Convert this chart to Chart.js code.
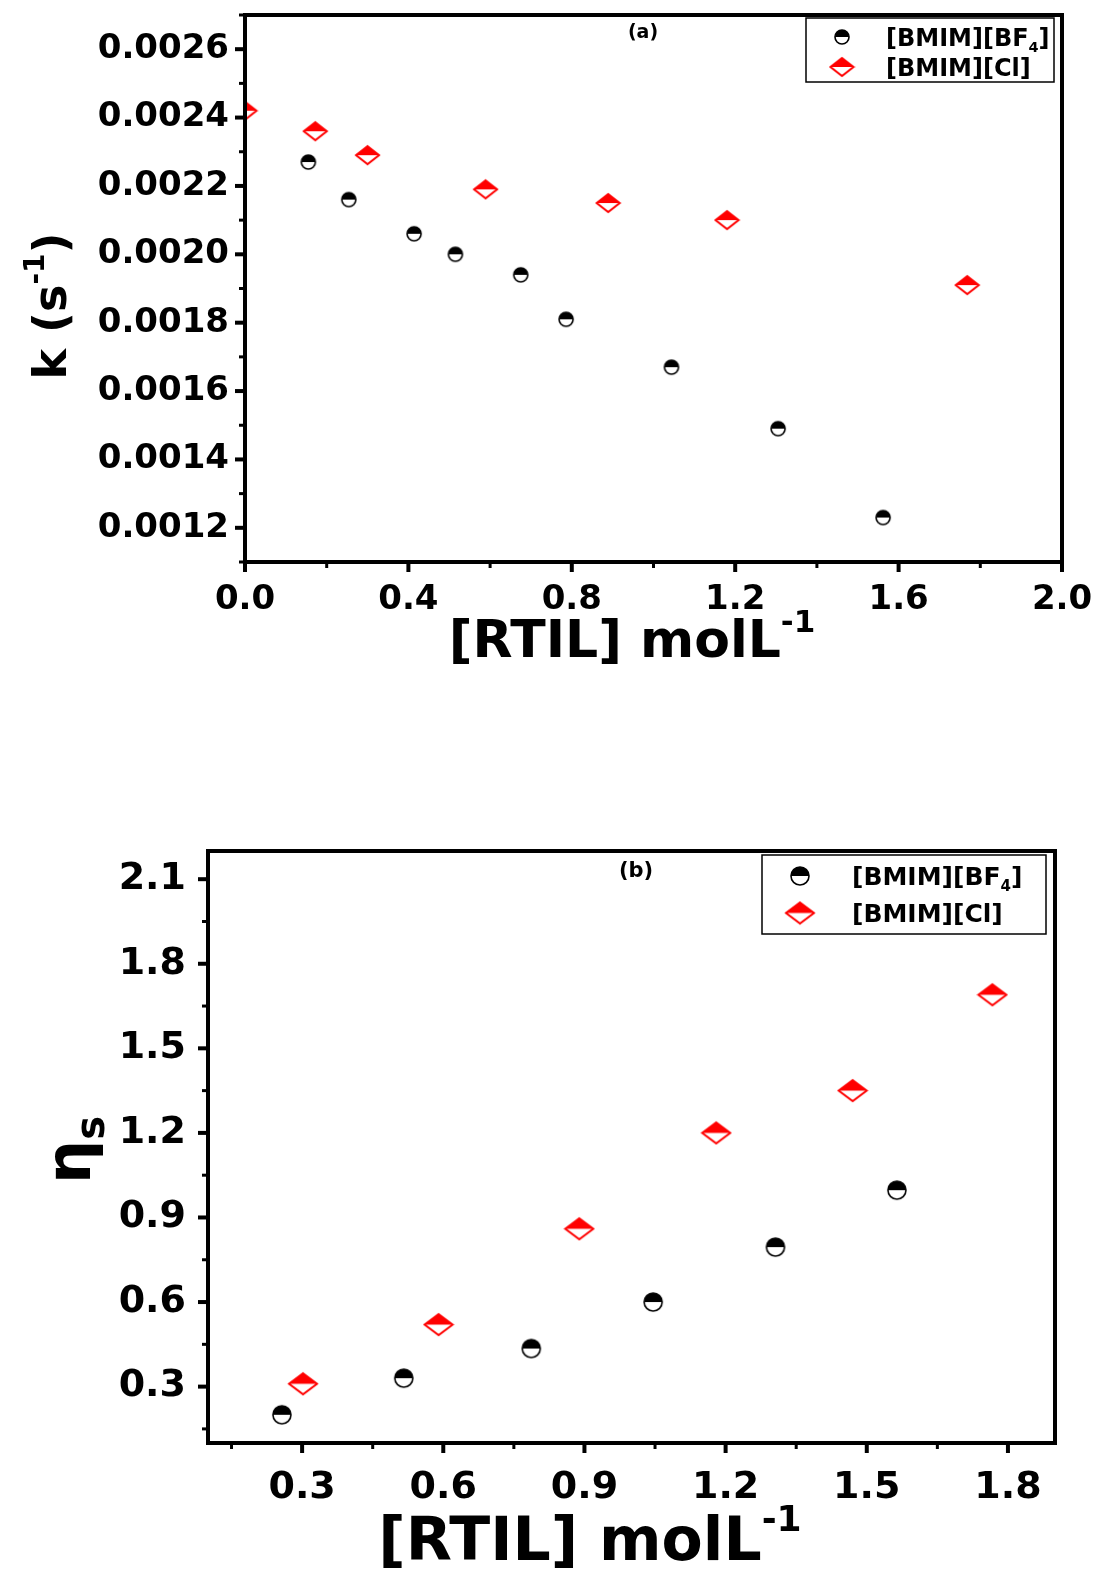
<!DOCTYPE html>
<html>
<head>
<meta charset="utf-8">
<script src="https://cdn.jsdelivr.net/npm/chart.js@4.4.0/dist/chart.umd.min.js"></script>
<style>
  body { margin: 0; background: #fff; }
  #wrap { position: relative; width: 1095px; height: 1571px; }
  canvas { position: absolute; left: 0; }
</style>
</head>
<body>
<div id="wrap">
  <canvas id="chartA" width="1095" height="700" style="top:0"></canvas>
  <canvas id="chartB" width="1095" height="801" style="top:770px"></canvas>
</div>
<script>
// panel (a): rate constant vs [RTIL]
const kBf4X = [0.155, 0.254, 0.414, 0.515, 0.675, 0.786, 1.044, 1.305, 1.562];
const kBf4Y = [0.00227, 0.00216, 0.00206, 0.00200, 0.00194, 0.00181, 0.00167, 0.00149, 0.00123];
const kClX = [0.0, 0.172, 0.30, 0.589, 0.889, 1.18, 1.768];
const kClY = [0.00242, 0.00236, 0.00229, 0.00219, 0.00215, 0.00210, 0.00191];
const aXTicks = [0.0, 0.4, 0.8, 1.2, 1.6, 2.0];
const aYTicks = [0.0012, 0.0014, 0.0016, 0.0018, 0.0020, 0.0022, 0.0024, 0.0026];

// panel (b): relative viscosity vs [RTIL]
const etaBf4X = [0.257, 0.516, 0.787, 1.046, 1.306, 1.564];
const etaBf4Y = [0.20, 0.33, 0.435, 0.60, 0.795, 0.997];
const etaClX = [0.302, 0.590, 0.889, 1.180, 1.470, 1.767];
const etaClY = [0.31, 0.52, 0.86, 1.20, 1.35, 1.69];
const bXTicks = [0.3, 0.6, 0.9, 1.2, 1.5, 1.8];
const bYTicks = [0.3, 0.6, 0.9, 1.2, 1.5, 1.8, 2.1];

const seriesNames = ['[BMIM][BF', '[BMIM][Cl]'];
const FONT = '"DejaVu Sans", "Liberation Sans", sans-serif';

function toPoints(xs, ys) {
    return xs.map((x, i) => ({ x: x, y: ys[i] }));
}

// half filled circle: top black, bottom white
function makeCircle(r) {
    const c = document.createElement('canvas');
    const s = Math.ceil(2 * r + 4);
    c.width = s; c.height = s;
    const g = c.getContext('2d');
    const m = s / 2;
    g.fillStyle = '#fff';
    g.beginPath(); g.arc(m, m, r, 0, Math.PI * 2); g.fill();
    g.fillStyle = '#000';
    g.beginPath(); g.arc(m, m, r, Math.PI, 0); g.closePath(); g.fill();
    g.strokeStyle = '#000'; g.lineWidth = 1.6;
    g.beginPath(); g.arc(m, m, r, 0, Math.PI * 2); g.stroke();
    return c;
}

// half filled diamond: top red, bottom white
function makeDiamond(w, h) {
    const c = document.createElement('canvas');
    c.width = Math.ceil(w + 4); c.height = Math.ceil(h + 4);
    const g = c.getContext('2d');
    const cx = c.width / 2, cy = c.height / 2;
    g.fillStyle = '#fff';
    g.beginPath();
    g.moveTo(cx, cy - h / 2); g.lineTo(cx + w / 2, cy); g.lineTo(cx, cy + h / 2); g.lineTo(cx - w / 2, cy);
    g.closePath(); g.fill();
    g.fillStyle = '#ff0000';
    g.beginPath();
    g.moveTo(cx - w / 2, cy); g.lineTo(cx, cy - h / 2); g.lineTo(cx + w / 2, cy);
    g.closePath(); g.fill();
    g.strokeStyle = '#ff0000'; g.lineWidth = 2;
    g.beginPath();
    g.moveTo(cx, cy - h / 2); g.lineTo(cx + w / 2, cy); g.lineTo(cx, cy + h / 2); g.lineTo(cx - w / 2, cy);
    g.closePath(); g.stroke();
    return c;
}

// draw text made of pieces (for sub/superscripts)
function drawRich(ctx, parts, x, y, align) {
    let total = 0;
    parts.forEach(p => {
        ctx.font = 'bold ' + p.size + 'px ' + FONT;
        p.w = ctx.measureText(p.t).width;
        total += p.w;
    });
    let cx = align === 'center' ? x - total / 2 : x;
    ctx.textAlign = 'left';
    ctx.textBaseline = 'alphabetic';
    parts.forEach(p => {
        ctx.font = 'bold ' + p.size + 'px ' + FONT;
        ctx.fillText(p.t, cx, y + (p.dy || 0));
        cx += p.w;
    });
}

const framePlugin = {
    id: 'frame',
    afterDatasetsDraw(chart, args, opts) {
        const ctx = chart.ctx;
        const a = chart.chartArea;
        const xs = chart.scales.x, ys = chart.scales.y;
        ctx.save();
        ctx.strokeStyle = '#000';
        ctx.lineWidth = 4;
        ctx.strokeRect(a.left, a.top, a.right - a.left, a.bottom - a.top);
        ctx.lineCap = 'butt';
        // major and minor ticks, outward
        opts.xTicks.forEach(v => {
            const px = xs.getPixelForValue(v);
            ctx.lineWidth = 4;
            ctx.beginPath(); ctx.moveTo(px, a.bottom); ctx.lineTo(px, a.bottom + 10); ctx.stroke();
        });
        opts.xMinor.forEach(v => {
            const px = xs.getPixelForValue(v);
            if (px < a.left - 1 || px > a.right + 1) return;
            ctx.lineWidth = 3;
            ctx.beginPath(); ctx.moveTo(px, a.bottom); ctx.lineTo(px, a.bottom + 6); ctx.stroke();
        });
        opts.yTicks.forEach(v => {
            const py = ys.getPixelForValue(v);
            ctx.lineWidth = 4;
            ctx.beginPath(); ctx.moveTo(a.left, py); ctx.lineTo(a.left - 10, py); ctx.stroke();
        });
        opts.yMinor.forEach(v => {
            const py = ys.getPixelForValue(v);
            if (py < a.top - 1 || py > a.bottom + 1) return;
            ctx.lineWidth = 3;
            ctx.beginPath(); ctx.moveTo(a.left, py); ctx.lineTo(a.left - 6, py); ctx.stroke();
        });
        ctx.fillStyle = '#000';
        // panel label
        ctx.font = 'bold ' + opts.panelSize + 'px ' + FONT;
        ctx.textAlign = 'center';
        ctx.textBaseline = 'middle';
        ctx.fillText(opts.panel, opts.panelX, opts.panelY);
        // legend box
        const L = opts.legend;
        ctx.lineWidth = 1.5;
        ctx.strokeRect(L.x, L.y, L.w, L.h);
        ctx.drawImage(opts.markers[0], L.mx - opts.markers[0].width / 2, L.y1 - opts.markers[0].height / 2);
        ctx.drawImage(opts.markers[1], L.mx - opts.markers[1].width / 2, L.y2 - opts.markers[1].height / 2);
        drawRich(ctx, [{ t: seriesNames[0], size: L.fs }, { t: '4', size: L.fs * 0.6, dy: L.fs * 0.25 }, { t: ']', size: L.fs }],
            L.tx, L.y1 + L.fs * 0.36, 'left');
        drawRich(ctx, [{ t: seriesNames[1], size: L.fs }], L.tx, L.y2 + L.fs * 0.36, 'left');
        // axis titles
        drawRich(ctx, opts.xTitle, opts.xTitlePos[0], opts.xTitlePos[1], 'center');
        ctx.translate(opts.yTitlePos[0], opts.yTitlePos[1]);
        ctx.rotate(-Math.PI / 2);
        drawRich(ctx, opts.yTitle, 0, 0, 'center');
        ctx.restore();
    }
};

function makeChart(id, cfg) {
    return new Chart(document.getElementById(id), {
        type: 'scatter',
        data: {
            datasets: [
                { label: seriesNames[0], data: cfg.bf4, pointStyle: cfg.markers[0], clip: 0 },
                { label: seriesNames[1], data: cfg.cl, pointStyle: cfg.markers[1], clip: 0 }
            ]
        },
        options: {
            responsive: false,
            animation: false,
            devicePixelRatio: 1,
            layout: { padding: cfg.padding },
            plugins: {
                legend: { display: false },
                tooltip: { enabled: false },
                frame: cfg.frame
            },
            scales: {
                x: {
                    type: 'linear',
                    min: cfg.xMin, max: cfg.xMax,
                    afterBuildTicks: s => { s.ticks = cfg.frame.xTicks.map(v => ({ value: v })); },
                    afterFit: s => { s.height = cfg.xHeight; s.paddingLeft = 0; s.paddingRight = 0; },
                    grid: { display: false, drawTicks: false },
                    border: { display: false },
                    ticks: {
                        padding: cfg.xPad,
                        color: '#000',
                        font: { family: FONT, size: cfg.tickSize, weight: 'bold' },
                        callback: v => v.toFixed(cfg.xDec)
                    }
                },
                y: {
                    type: 'linear',
                    min: cfg.yMin, max: cfg.yMax,
                    afterBuildTicks: s => { s.ticks = cfg.frame.yTicks.map(v => ({ value: v })); },
                    afterFit: s => { s.width = cfg.yWidth; s.paddingTop = 0; s.paddingBottom = 0; },
                    grid: { display: false, drawTicks: false },
                    border: { display: false },
                    ticks: {
                        padding: cfg.yPad,
                        color: '#000',
                        font: { family: FONT, size: cfg.tickSize, weight: 'bold' },
                        callback: v => v.toFixed(cfg.yDec)
                    }
                }
            }
        },
        plugins: [framePlugin]
    });
}

const markersA = [makeCircle(7), makeDiamond(23, 18)];
makeChart('chartA', {
    bf4: toPoints(kBf4X, kBf4Y),
    cl: toPoints(kClX, kClY),
    markers: markersA,
    padding: { left: 0, top: 15, right: 33, bottom: 0 },
    xMin: 0, xMax: 2.0, yMin: 0.0011, yMax: 0.0027,
    xHeight: 138, yWidth: 245, xPad: 18, yPad: 16,
    tickSize: 34, xDec: 1, yDec: 4,
    frame: {
        xTicks: aXTicks,
        xMinor: [0.2, 0.6, 1.0, 1.4, 1.8],
        yTicks: aYTicks,
        yMinor: [0.0011, 0.0013, 0.0015, 0.0017, 0.0019, 0.0021, 0.0023, 0.0025, 0.0027],
        panel: '(a)', panelSize: 19, panelX: 643, panelY: 33,
        markers: markersA,
        legend: { x: 806, y: 18, w: 248, h: 64, mx: 842, y1: 37, y2: 67, tx: 886, fs: 24 },
        xTitle: [{ t: '[RTIL] molL', size: 52 }, { t: '-1', size: 31, dy: -25 }],
        xTitlePos: [632, 657],
        yTitle: [{ t: 'k (s', size: 46 }, { t: '-1', size: 28, dy: -22 }, { t: ')', size: 46 }],
        yTitlePos: [66, 306]
    }
});

const markersB = [makeCircle(9), makeDiamond(28, 21)];
makeChart('chartB', {
    bf4: toPoints(etaBf4X, etaBf4Y),
    cl: toPoints(etaClX, etaClY),
    markers: markersB,
    padding: { left: 0, top: 81, right: 40, bottom: 0 },
    xMin: 0.1, xMax: 1.9, yMin: 0.1, yMax: 2.2,
    xHeight: 128, yWidth: 208, xPad: 22, yPad: 22,
    tickSize: 38, xDec: 1, yDec: 1,
    frame: {
        xTicks: bXTicks,
        xMinor: [0.15, 0.45, 0.75, 1.05, 1.35, 1.65],
        yTicks: bYTicks,
        yMinor: [0.15, 0.45, 0.75, 1.05, 1.35, 1.65, 1.95],
        panel: '(b)', panelSize: 21, panelX: 636, panelY: 102,
        markers: markersB,
        legend: { x: 762, y: 85, w: 284, h: 79, mx: 800, y1: 106, y2: 143, tx: 852, fs: 25 },
        xTitle: [{ t: '[RTIL] molL', size: 60 }, { t: '-1', size: 36, dy: -29 }],
        xTitlePos: [590, 790],
        yTitle: [{ t: '\u03B7', size: 62 }, { t: 's', size: 40, dy: 14 }],
        yTitlePos: [90, 380]
    }
});
</script>
</body>
</html>
